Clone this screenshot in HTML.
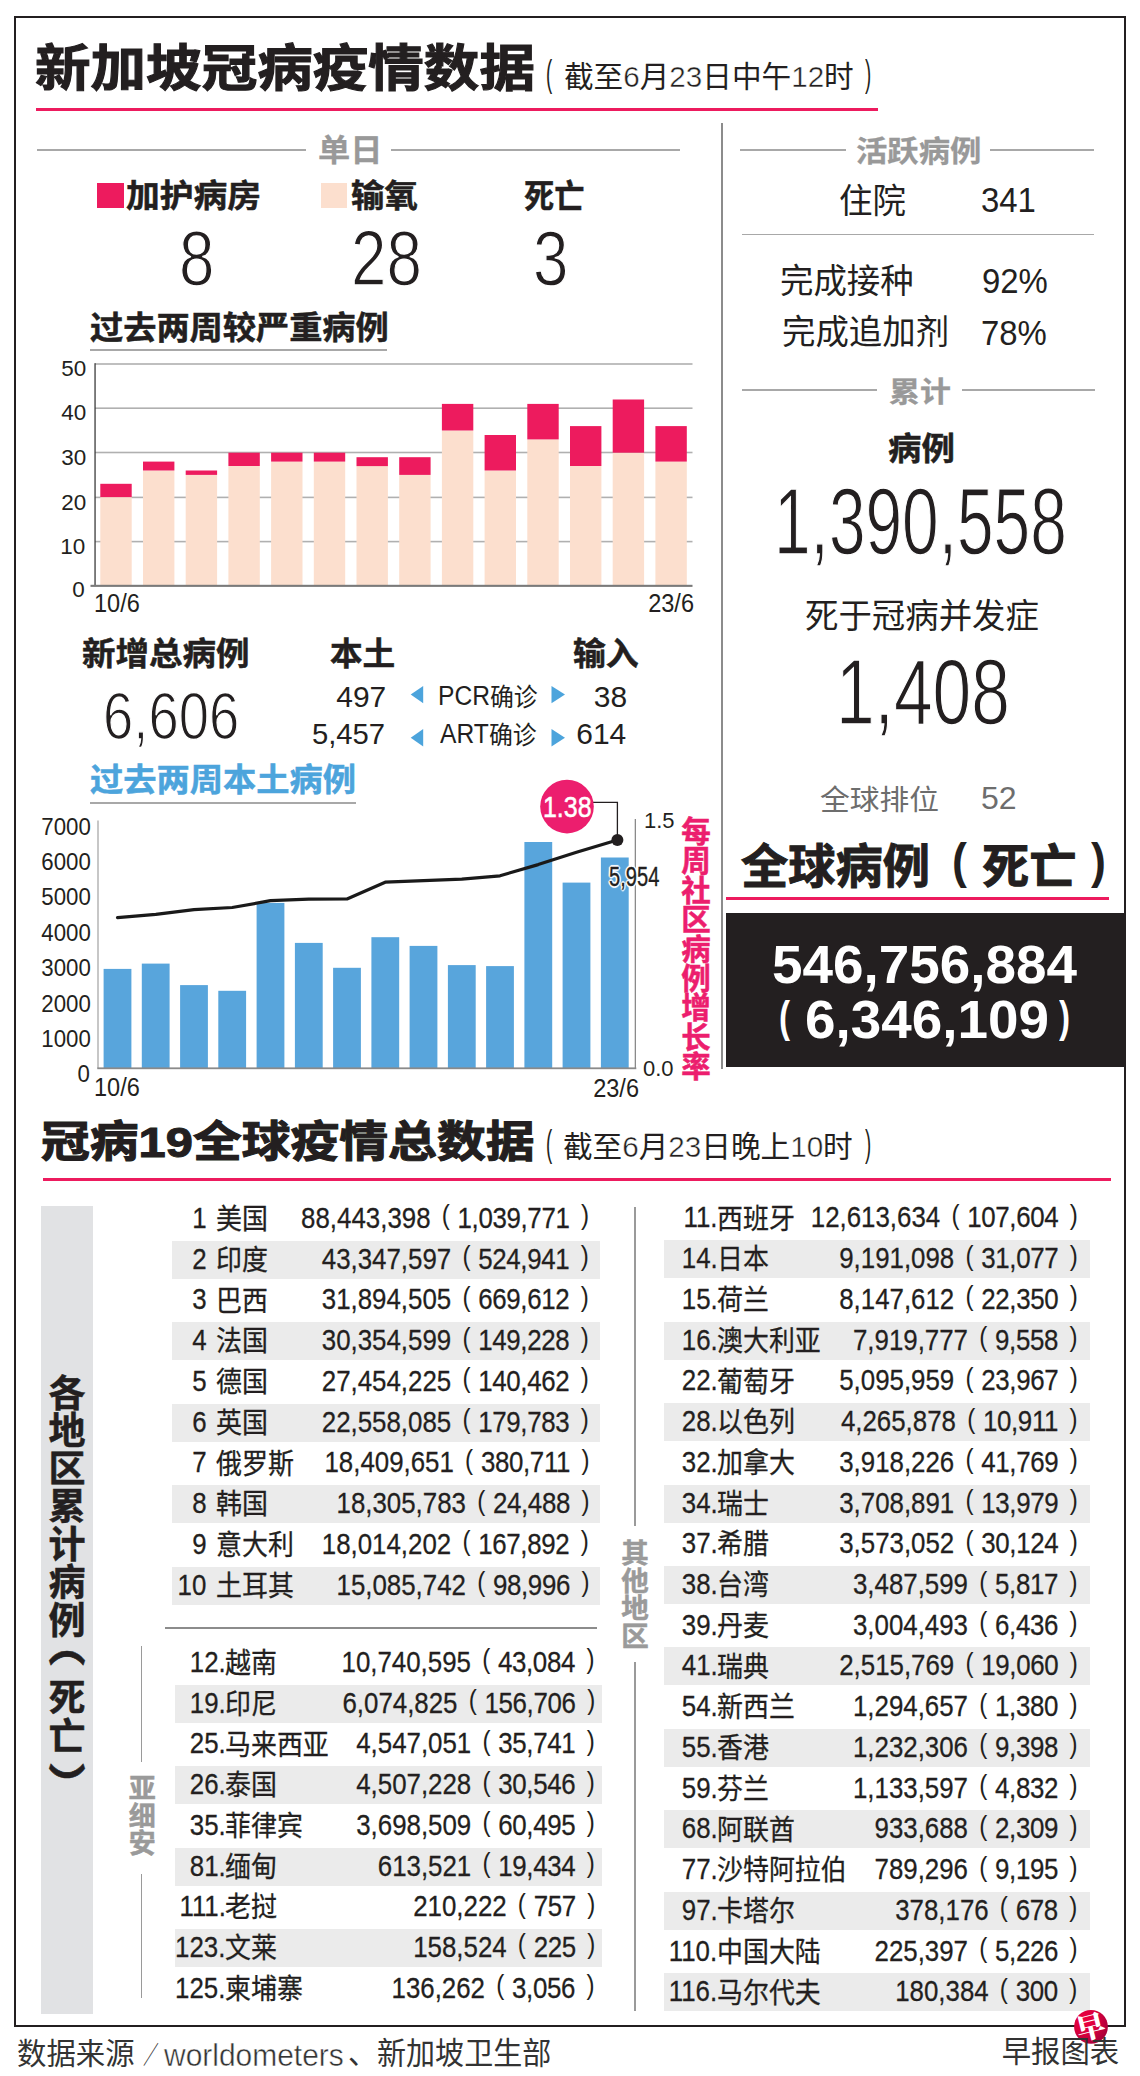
<!DOCTYPE html>
<html lang="zh-CN"><head><meta charset="utf-8"><title>新加坡冠病疫情数据</title>
<style>
html,body{margin:0;padding:0;background:#fff}
body{width:1140px;height:2076px;position:relative;overflow:hidden;font-family:"Liberation Sans","Noto Sans CJK SC",sans-serif;color:#231f20}
.t{position:absolute;white-space:nowrap;line-height:1;transform-origin:0 0}
.t.r{transform-origin:100% 0}
.thin{-webkit-text-stroke:1.35px #fff}
.lt{}
.dg{-webkit-text-stroke:.45px #fff}
.halo{text-shadow:0 0 2px #fff,0 0 2px #fff,1px 1px 1px #fff,-1px -1px 1px #fff,1px -1px 1px #fff,-1px 1px 1px #fff,0 2px 1px #fff,0 -2px 1px #fff,2px 0 1px #fff,-2px 0 1px #fff}
.b{position:absolute}
.v{position:absolute;writing-mode:vertical-rl;white-space:nowrap;line-height:1;font-weight:700;-webkit-text-stroke-width:.5px}
.row{position:absolute;height:38px}
.row.g{background:#ebebeb}
.row span{position:absolute;top:-1px;white-space:nowrap;line-height:38px;font-size:30px;-webkit-text-stroke:.28px #231f20}
.row .k{transform-origin:100% 50%;transform:scaleX(.862)}
.row .n{transform-origin:0 50%;font-size:27.9px;top:1.3px;transform:scaleX(.93)}
.row .q{transform-origin:100% 50%;transform:scaleX(.862)}
.row i{font-style:normal;font-size:28px;position:relative;top:-3.5px;-webkit-text-stroke:0}
.row .p1{margin:0 9px 0 13px}
.row .p2{margin-left:13.4px}
.row b{font-weight:400;letter-spacing:-.4px}
</style></head><body>
<div class="b" style="left:14.3px;top:15.8px;width:1107.6px;height:2007.7px;border:2.6px solid #231f20;box-sizing:content-box"></div>
<div class="b" style="left:36.0px;top:107.8px;width:842.0px;height:3.0px;background:#ed1b5e;"></div>
<div class="b" style="left:43.0px;top:1177.5px;width:1068.0px;height:3.0px;background:#ed1b5e;"></div>
<div class="b" style="left:725.5px;top:897.0px;width:383.5px;height:2.6px;background:#ed1b5e;"></div>
<div class="b" style="left:37.0px;top:149.0px;width:269.0px;height:1.8px;background:#a8a8a8;"></div>
<div class="b" style="left:391.0px;top:149.0px;width:289.0px;height:1.8px;background:#a8a8a8;"></div>
<div class="b" style="left:740.0px;top:149.0px;width:106.0px;height:1.8px;background:#a8a8a8;"></div>
<div class="b" style="left:990.0px;top:149.0px;width:103.5px;height:1.8px;background:#a8a8a8;"></div>
<div class="b" style="left:742.0px;top:233.8px;width:351.5px;height:1.5px;background:#a8a8a8;"></div>
<div class="b" style="left:742.0px;top:389.4px;width:134.5px;height:1.8px;background:#a8a8a8;"></div>
<div class="b" style="left:962.4px;top:389.4px;width:132.6px;height:1.8px;background:#a8a8a8;"></div>
<div class="b" style="left:90.0px;top:349.3px;width:297.0px;height:2.0px;background:#a8a8a8;"></div>
<div class="b" style="left:90.0px;top:801.6px;width:266.0px;height:2.0px;background:#a8a8a8;"></div>
<div class="b" style="left:721.0px;top:123.0px;width:1.6px;height:946.0px;background:#8c8c8c;"></div>
<div class="b" style="left:97.0px;top:183.0px;width:27.0px;height:25.0px;background:#ed1b5e;"></div>
<div class="b" style="left:321.0px;top:183.0px;width:26.0px;height:25.0px;background:#fcdfce;"></div>
<div class="b" style="left:725.5px;top:912.5px;width:400.0px;height:154.0px;background:#231f20;"></div>
<svg class="b" style="left:0;top:355px" width="720" height="240" viewBox="0 355 720 240"><rect x="95" y="363.2" width="597.5" height="1.6" fill="#b0b0b0"/><rect x="95" y="407.4" width="597.5" height="1.6" fill="#b0b0b0"/><rect x="95" y="451.7" width="597.5" height="1.6" fill="#b0b0b0"/><rect x="95" y="496.6" width="597.5" height="1.6" fill="#b0b0b0"/><rect x="95" y="540.8" width="597.5" height="1.6" fill="#b0b0b0"/><rect x="100.3" y="497.1" width="31.4" height="88.7" fill="#fcdfce"/><rect x="100.3" y="483.8" width="31.4" height="13.3" fill="#ed1b5e"/><rect x="143.0" y="470.5" width="31.4" height="115.3" fill="#fcdfce"/><rect x="143.0" y="461.6" width="31.4" height="8.9" fill="#ed1b5e"/><rect x="185.7" y="474.9" width="31.4" height="110.9" fill="#fcdfce"/><rect x="185.7" y="470.5" width="31.4" height="4.4" fill="#ed1b5e"/><rect x="228.4" y="466.0" width="31.4" height="119.8" fill="#fcdfce"/><rect x="228.4" y="452.7" width="31.4" height="13.3" fill="#ed1b5e"/><rect x="271.1" y="461.6" width="31.4" height="124.2" fill="#fcdfce"/><rect x="271.1" y="452.7" width="31.4" height="8.9" fill="#ed1b5e"/><rect x="313.8" y="461.6" width="31.4" height="124.2" fill="#fcdfce"/><rect x="313.8" y="452.7" width="31.4" height="8.9" fill="#ed1b5e"/><rect x="356.5" y="466.0" width="31.4" height="119.8" fill="#fcdfce"/><rect x="356.5" y="457.2" width="31.4" height="8.9" fill="#ed1b5e"/><rect x="399.2" y="474.9" width="31.4" height="110.9" fill="#fcdfce"/><rect x="399.2" y="457.2" width="31.4" height="17.7" fill="#ed1b5e"/><rect x="441.9" y="430.5" width="31.4" height="155.3" fill="#fcdfce"/><rect x="441.9" y="403.9" width="31.4" height="26.6" fill="#ed1b5e"/><rect x="484.6" y="470.5" width="31.4" height="115.3" fill="#fcdfce"/><rect x="484.6" y="435.0" width="31.4" height="35.5" fill="#ed1b5e"/><rect x="527.3" y="439.4" width="31.4" height="146.4" fill="#fcdfce"/><rect x="527.3" y="403.9" width="31.4" height="35.5" fill="#ed1b5e"/><rect x="570.0" y="466.0" width="31.4" height="119.8" fill="#fcdfce"/><rect x="570.0" y="426.1" width="31.4" height="39.9" fill="#ed1b5e"/><rect x="612.7" y="452.7" width="31.4" height="133.1" fill="#fcdfce"/><rect x="612.7" y="399.5" width="31.4" height="53.2" fill="#ed1b5e"/><rect x="655.4" y="461.6" width="31.4" height="124.2" fill="#fcdfce"/><rect x="655.4" y="426.1" width="31.4" height="35.5" fill="#ed1b5e"/><rect x="94.4" y="363.2" width="1.3" height="223" fill="#3c3c3c"/><rect x="90.5" y="584.8" width="602" height="2.1" fill="#7a7a7a"/></svg>
<svg class="b" style="left:0;top:770px" width="720" height="310" viewBox="0 770 720 310"><rect x="103.6" y="968.9" width="27.8" height="99.4" fill="#58a5dc"/><rect x="141.8" y="963.6" width="27.8" height="104.7" fill="#58a5dc"/><rect x="180.1" y="985.1" width="27.8" height="83.2" fill="#58a5dc"/><rect x="218.3" y="990.8" width="27.8" height="77.5" fill="#58a5dc"/><rect x="256.6" y="902.9" width="27.8" height="165.4" fill="#58a5dc"/><rect x="294.9" y="942.9" width="27.8" height="125.4" fill="#58a5dc"/><rect x="333.1" y="967.8" width="27.8" height="100.5" fill="#58a5dc"/><rect x="371.4" y="937.2" width="27.8" height="131.1" fill="#58a5dc"/><rect x="409.6" y="945.9" width="27.8" height="122.4" fill="#58a5dc"/><rect x="447.9" y="965.1" width="27.8" height="103.2" fill="#58a5dc"/><rect x="486.1" y="966.1" width="27.8" height="102.2" fill="#58a5dc"/><rect x="524.4" y="842.0" width="27.8" height="226.3" fill="#58a5dc"/><rect x="562.6" y="882.6" width="27.8" height="185.7" fill="#58a5dc"/><rect x="600.9" y="857.5" width="27.8" height="210.8" fill="#58a5dc"/><rect x="97.3" y="820.5" width="1.4" height="248" fill="#b0b0b0"/><rect x="97.3" y="1067.4" width="539" height="1.8" fill="#8a8a8a"/><rect x="634.7" y="819" width="1.3" height="250" fill="#8a8a8a"/><polyline points="117.5,917.7 155.8,914.3 194.0,909.6 232.2,907.5 270.5,900.7 308.8,899.2 347.0,899.0 385.2,882.2 423.5,880.7 461.8,879.2 500.0,875.8 538.2,864.6 576.5,852.3 617.4,840.0" fill="none" stroke="#1a1a1a" stroke-width="3.2" stroke-linejoin="round" stroke-linecap="round"/><polyline points="592,802.3 617.4,802.3 617.4,838" fill="none" stroke="#231f20" stroke-width="1.3"/><circle cx="617.4" cy="840" r="6" fill="#231f20"/><circle cx="567" cy="806.6" r="26.8" fill="#ec1e6e"/></svg>
<svg class="b" style="left:400px;top:680px" width="180" height="75" viewBox="400 680 180 75"><polygon points="410.7,694.6 423.2,685.9 423.2,703.3" fill="#4ca4dc"/><polygon points="410.7,737.8 423.2,729.1 423.2,746.5" fill="#4ca4dc"/><polygon points="565.0,694.6 551.5,685.9 551.5,703.3" fill="#4ca4dc"/><polygon points="565.0,737.8 551.5,729.1 551.5,746.5" fill="#4ca4dc"/></svg>
<div class="v" id="vrate" style="left:678.5px;top:815.5px;font-size:29.5px;letter-spacing:-0.10px;color:#ec1e6e">每周社区病例增长率</div>
<div class="b" style="left:40.7px;top:1205.8px;width:52.1px;height:808.7px;background:#e1e2e4;"></div>
<div class="v" id="vreg" style="left:44.9px;top:1374.0px;font-size:37.0px;letter-spacing:0.90px">各地区累计病例</div>
<div class="v" id="vreg2" style="left:44.9px;top:1677.7px;font-size:37.0px;letter-spacing:2.60px">死亡</div>
<div class="v" id="vp1" style="left:44.9px;top:1630.3px;font-size:37.0px;transform:scaleY(1.3);transform-origin:50% 100%">（</div>
<div class="v" id="vp2" style="left:44.9px;top:1762.0px;font-size:37.0px;transform:scaleY(1.3);transform-origin:50% 0">）</div>
<div class="v" id="vasean" style="left:125.8px;top:1773.5px;font-size:27.0px;letter-spacing:0.80px;color:#9a9a9a">亚细安</div>
<div class="v" id="voth" style="left:618.4px;top:1539.0px;font-size:27.5px;letter-spacing:0.00px;color:#9a9a9a">其他地区</div>
<div class="b" style="left:140.5px;top:1646.0px;width:1.6px;height:116.0px;background:#9a9a9a;"></div>
<div class="b" style="left:140.5px;top:1874.0px;width:1.6px;height:124.0px;background:#9a9a9a;"></div>
<div class="b" style="left:634.3px;top:1207.0px;width:1.6px;height:319.0px;background:#9a9a9a;"></div>
<div class="b" style="left:634.3px;top:1662.0px;width:1.6px;height:349.0px;background:#9a9a9a;"></div>
<div class="b" style="left:165.0px;top:1627.2px;width:431.5px;height:1.5px;background:#8c8c8c;"></div>
<div class="row" style="left:172.0px;top:1199.7px;width:428.0px"><span class="k" style="right:393.5px">1</span><span class="n" style="left:44.2px">美国</span><span class="q" style="right:10.8px">88,443,398<i class="p1">(</i><b>1,039,771</b><i class="p2">)</i></span></div>
<div class="row g" style="left:172.0px;top:1240.5px;width:428.0px"><span class="k" style="right:393.5px">2</span><span class="n" style="left:44.2px">印度</span><span class="q" style="right:10.8px">43,347,597<i class="p1">(</i><b>524,941</b><i class="p2">)</i></span></div>
<div class="row" style="left:172.0px;top:1281.3px;width:428.0px"><span class="k" style="right:393.5px">3</span><span class="n" style="left:44.2px">巴西</span><span class="q" style="right:10.8px">31,894,505<i class="p1">(</i><b>669,612</b><i class="p2">)</i></span></div>
<div class="row g" style="left:172.0px;top:1322.0px;width:428.0px"><span class="k" style="right:393.5px">4</span><span class="n" style="left:44.2px">法国</span><span class="q" style="right:10.8px">30,354,599<i class="p1">(</i><b>149,228</b><i class="p2">)</i></span></div>
<div class="row" style="left:172.0px;top:1362.8px;width:428.0px"><span class="k" style="right:393.5px">5</span><span class="n" style="left:44.2px">德国</span><span class="q" style="right:10.8px">27,454,225<i class="p1">(</i><b>140,462</b><i class="p2">)</i></span></div>
<div class="row g" style="left:172.0px;top:1403.6px;width:428.0px"><span class="k" style="right:393.5px">6</span><span class="n" style="left:44.2px">英国</span><span class="q" style="right:10.8px">22,558,085<i class="p1">(</i><b>179,783</b><i class="p2">)</i></span></div>
<div class="row" style="left:172.0px;top:1444.4px;width:428.0px"><span class="k" style="right:393.5px">7</span><span class="n" style="left:44.2px">俄罗斯</span><span class="q" style="right:10.8px">18,409,651<i class="p1">(</i><b>380,711</b><i class="p2">)</i></span></div>
<div class="row g" style="left:172.0px;top:1485.2px;width:428.0px"><span class="k" style="right:393.5px">8</span><span class="n" style="left:44.2px">韩国</span><span class="q" style="right:10.8px">18,305,783<i class="p1">(</i><b>24,488</b><i class="p2">)</i></span></div>
<div class="row" style="left:172.0px;top:1525.9px;width:428.0px"><span class="k" style="right:393.5px">9</span><span class="n" style="left:44.2px">意大利</span><span class="q" style="right:10.8px">18,014,202<i class="p1">(</i><b>167,892</b><i class="p2">)</i></span></div>
<div class="row g" style="left:172.0px;top:1566.7px;width:428.0px"><span class="k" style="right:393.5px">10</span><span class="n" style="left:44.2px">土耳其</span><span class="q" style="right:10.8px">15,085,742<i class="p1">(</i><b>98,996</b><i class="p2">)</i></span></div>
<div class="row" style="left:175.0px;top:1643.9px;width:427.0px"><span class="k" style="right:376.5px">12.</span><span class="n" style="left:50.2px">越南</span><span class="q" style="right:7.0px">10,740,595<i class="p1">(</i><b>43,084</b><i class="p2">)</i></span></div>
<div class="row g" style="left:175.0px;top:1684.6px;width:427.0px"><span class="k" style="right:376.5px">19.</span><span class="n" style="left:50.2px">印尼</span><span class="q" style="right:7.0px">6,074,825<i class="p1">(</i><b>156,706</b><i class="p2">)</i></span></div>
<div class="row" style="left:175.0px;top:1725.3px;width:427.0px"><span class="k" style="right:376.5px">25.</span><span class="n" style="left:50.2px">马来西亚</span><span class="q" style="right:7.0px">4,547,051<i class="p1">(</i><b>35,741</b><i class="p2">)</i></span></div>
<div class="row g" style="left:175.0px;top:1766.1px;width:427.0px"><span class="k" style="right:376.5px">26.</span><span class="n" style="left:50.2px">泰国</span><span class="q" style="right:7.0px">4,507,228<i class="p1">(</i><b>30,546</b><i class="p2">)</i></span></div>
<div class="row" style="left:175.0px;top:1806.8px;width:427.0px"><span class="k" style="right:376.5px">35.</span><span class="n" style="left:50.2px">菲律宾</span><span class="q" style="right:7.0px">3,698,509<i class="p1">(</i><b>60,495</b><i class="p2">)</i></span></div>
<div class="row g" style="left:175.0px;top:1847.5px;width:427.0px"><span class="k" style="right:376.5px">81.</span><span class="n" style="left:50.2px">缅甸</span><span class="q" style="right:7.0px">613,521<i class="p1">(</i><b>19,434</b><i class="p2">)</i></span></div>
<div class="row" style="left:175.0px;top:1888.2px;width:427.0px"><span class="k" style="right:376.5px">111.</span><span class="n" style="left:50.2px">老挝</span><span class="q" style="right:7.0px">210,222<i class="p1">(</i><b>757</b><i class="p2">)</i></span></div>
<div class="row g" style="left:175.0px;top:1928.9px;width:427.0px"><span class="k" style="right:376.5px">123.</span><span class="n" style="left:50.2px">文莱</span><span class="q" style="right:7.0px">158,524<i class="p1">(</i><b>225</b><i class="p2">)</i></span></div>
<div class="row" style="left:175.0px;top:1969.7px;width:427.0px"><span class="k" style="right:376.5px">125.</span><span class="n" style="left:50.2px">柬埔寨</span><span class="q" style="right:7.0px">136,262<i class="p1">(</i><b>3,056</b><i class="p2">)</i></span></div>
<div class="row" style="left:664.0px;top:1199.4px;width:426.0px"><span class="k" style="right:372.4px">11.</span><span class="n" style="left:52.6px">西班牙</span><span class="q" style="right:12.2px">12,613,634<i class="p1">(</i><b>107,604</b><i class="p2">)</i></span></div>
<div class="row g" style="left:664.0px;top:1240.1px;width:426.0px"><span class="k" style="right:372.4px">14.</span><span class="n" style="left:52.6px">日本</span><span class="q" style="right:12.2px">9,191,098<i class="p1">(</i><b>31,077</b><i class="p2">)</i></span></div>
<div class="row" style="left:664.0px;top:1280.9px;width:426.0px"><span class="k" style="right:372.4px">15.</span><span class="n" style="left:52.6px">荷兰</span><span class="q" style="right:12.2px">8,147,612<i class="p1">(</i><b>22,350</b><i class="p2">)</i></span></div>
<div class="row g" style="left:664.0px;top:1321.6px;width:426.0px"><span class="k" style="right:372.4px">16.</span><span class="n" style="left:52.6px">澳大利亚</span><span class="q" style="right:12.2px">7,919,777<i class="p1">(</i><b>9,558</b><i class="p2">)</i></span></div>
<div class="row" style="left:664.0px;top:1362.3px;width:426.0px"><span class="k" style="right:372.4px">22.</span><span class="n" style="left:52.6px">葡萄牙</span><span class="q" style="right:12.2px">5,095,959<i class="p1">(</i><b>23,967</b><i class="p2">)</i></span></div>
<div class="row g" style="left:664.0px;top:1403.1px;width:426.0px"><span class="k" style="right:372.4px">28.</span><span class="n" style="left:52.6px">以色列</span><span class="q" style="right:12.2px">4,265,878<i class="p1">(</i><b>10,911</b><i class="p2">)</i></span></div>
<div class="row" style="left:664.0px;top:1443.8px;width:426.0px"><span class="k" style="right:372.4px">32.</span><span class="n" style="left:52.6px">加拿大</span><span class="q" style="right:12.2px">3,918,226<i class="p1">(</i><b>41,769</b><i class="p2">)</i></span></div>
<div class="row g" style="left:664.0px;top:1484.5px;width:426.0px"><span class="k" style="right:372.4px">34.</span><span class="n" style="left:52.6px">瑞士</span><span class="q" style="right:12.2px">3,708,891<i class="p1">(</i><b>13,979</b><i class="p2">)</i></span></div>
<div class="row" style="left:664.0px;top:1525.2px;width:426.0px"><span class="k" style="right:372.4px">37.</span><span class="n" style="left:52.6px">希腊</span><span class="q" style="right:12.2px">3,573,052<i class="p1">(</i><b>30,124</b><i class="p2">)</i></span></div>
<div class="row g" style="left:664.0px;top:1566.0px;width:426.0px"><span class="k" style="right:372.4px">38.</span><span class="n" style="left:52.6px">台湾</span><span class="q" style="right:12.2px">3,487,599<i class="p1">(</i><b>5,817</b><i class="p2">)</i></span></div>
<div class="row" style="left:664.0px;top:1606.7px;width:426.0px"><span class="k" style="right:372.4px">39.</span><span class="n" style="left:52.6px">丹麦</span><span class="q" style="right:12.2px">3,004,493<i class="p1">(</i><b>6,436</b><i class="p2">)</i></span></div>
<div class="row g" style="left:664.0px;top:1647.4px;width:426.0px"><span class="k" style="right:372.4px">41.</span><span class="n" style="left:52.6px">瑞典</span><span class="q" style="right:12.2px">2,515,769<i class="p1">(</i><b>19,060</b><i class="p2">)</i></span></div>
<div class="row" style="left:664.0px;top:1688.2px;width:426.0px"><span class="k" style="right:372.4px">54.</span><span class="n" style="left:52.6px">新西兰</span><span class="q" style="right:12.2px">1,294,657<i class="p1">(</i><b>1,380</b><i class="p2">)</i></span></div>
<div class="row g" style="left:664.0px;top:1728.9px;width:426.0px"><span class="k" style="right:372.4px">55.</span><span class="n" style="left:52.6px">香港</span><span class="q" style="right:12.2px">1,232,306<i class="p1">(</i><b>9,398</b><i class="p2">)</i></span></div>
<div class="row" style="left:664.0px;top:1769.6px;width:426.0px"><span class="k" style="right:372.4px">59.</span><span class="n" style="left:52.6px">芬兰</span><span class="q" style="right:12.2px">1,133,597<i class="p1">(</i><b>4,832</b><i class="p2">)</i></span></div>
<div class="row g" style="left:664.0px;top:1810.3px;width:426.0px"><span class="k" style="right:372.4px">68.</span><span class="n" style="left:52.6px">阿联酋</span><span class="q" style="right:12.2px">933,688<i class="p1">(</i><b>2,309</b><i class="p2">)</i></span></div>
<div class="row" style="left:664.0px;top:1851.1px;width:426.0px"><span class="k" style="right:372.4px">77.</span><span class="n" style="left:52.6px">沙特阿拉伯</span><span class="q" style="right:12.2px">789,296<i class="p1">(</i><b>9,195</b><i class="p2">)</i></span></div>
<div class="row g" style="left:664.0px;top:1891.8px;width:426.0px"><span class="k" style="right:372.4px">97.</span><span class="n" style="left:52.6px">卡塔尔</span><span class="q" style="right:12.2px">378,176<i class="p1">(</i><b>678</b><i class="p2">)</i></span></div>
<div class="row" style="left:664.0px;top:1932.5px;width:426.0px"><span class="k" style="right:372.4px">110.</span><span class="n" style="left:52.6px">中国大陆</span><span class="q" style="right:12.2px">225,397<i class="p1">(</i><b>5,226</b><i class="p2">)</i></span></div>
<div class="row g" style="left:664.0px;top:1973.3px;width:426.0px"><span class="k" style="right:372.4px">116.</span><span class="n" style="left:52.6px">马尔代夫</span><span class="q" style="right:12.2px">180,384<i class="p1">(</i><b>300</b><i class="p2">)</i></span></div>
<svg class="b" style="left:1069px;top:2005px" width="44" height="44" viewBox="1069 2005 44 44"><defs><radialGradient id="lg" cx="0.3" cy="0.3" r="0.8"><stop offset="0" stop-color="#f0003e"/><stop offset="0.55" stop-color="#d4003c"/><stop offset="1" stop-color="#a3003a"/></radialGradient></defs><circle cx="1091" cy="2026.8" r="16.9" fill="url(#lg)"/><text x="1090.5" y="2037.5" font-size="29" font-weight="900" fill="#fff" text-anchor="middle" font-family="Noto Serif CJK SC,Noto Sans CJK SC,serif" transform="rotate(-14 1091 2026.8)">早</text></svg>
<div class="t" id="t1" style="left:35.3px;top:43.5px;font-size:50.5px;font-weight:700;transform:scaleX(1.100);-webkit-text-stroke-width:1.1px">新加坡冠病疫情数据</div>
<div class="t" id="t1s" style="left:564.1px;top:62.0px;font-size:29.9px;transform:scaleX(0.991)">截至<span class="dg">6</span>月<span class="dg">23</span>日中午<span class="dg">12</span>时</div>
<div class="t" id="t1p1" style="left:545.8px;top:55.8px;font-size:36.8px;font-weight:300;transform:scaleX(0.506)">(</div>
<div class="t" id="t1p2" style="left:865.0px;top:55.8px;font-size:36.8px;font-weight:300;transform:scaleX(0.506)">)</div>
<div class="t" id="lab1" style="left:318.3px;top:135.0px;font-size:30.4px;font-weight:700;color:#999;transform:scaleX(1.060);-webkit-text-stroke-width:.3px">单日</div>
<div class="t" id="icu" style="left:126.0px;top:180.6px;font-size:31.4px;font-weight:700;transform:scaleX(1.076);-webkit-text-stroke-width:.5px">加护病房</div>
<div class="t" id="o2" style="left:350.9px;top:181.0px;font-size:31.8px;font-weight:700;transform:scaleX(1.051);-webkit-text-stroke-width:.5px">输氧</div>
<div class="t" id="dth" style="left:523.7px;top:181.0px;font-size:32.8px;font-weight:700;transform:scaleX(0.922);-webkit-text-stroke-width:.5px">死亡</div>
<div class="t thin" id="n8" style="left:178.7px;top:219.3px;font-size:78.2px;transform:scaleX(0.814)">8</div>
<div class="t thin" id="n28" style="left:350.7px;top:219.3px;font-size:78.2px;transform:scaleX(0.814)">28</div>
<div class="t thin" id="n3" style="left:532.5px;top:219.3px;font-size:78.2px;transform:scaleX(0.814)">3</div>
<div class="t" id="c1t" style="left:90.3px;top:313.1px;font-size:31.8px;font-weight:700;transform:scaleX(1.044);-webkit-text-stroke-width:.5px">过去两周较严重病例</div>
<div class="t r lt" id="c1y50" style="right:1053.8px;top:357.1px;font-size:22.7px;transform:scaleX(0.990)">50</div>
<div class="t r lt" id="c1y40" style="right:1053.8px;top:401.3px;font-size:22.7px;transform:scaleX(0.990)">40</div>
<div class="t r lt" id="c1y30" style="right:1053.8px;top:445.6px;font-size:22.7px;transform:scaleX(0.990)">30</div>
<div class="t r lt" id="c1y20" style="right:1053.8px;top:490.5px;font-size:22.7px;transform:scaleX(0.990)">20</div>
<div class="t r lt" id="c1y10" style="right:1054.8px;top:534.7px;font-size:22.7px;transform:scaleX(0.990)">10</div>
<div class="t r lt" id="c1y0" style="right:1054.9px;top:577.9px;font-size:22.7px;transform:scaleX(0.990)">0</div>
<div class="t lt" id="c1x0" style="left:93.7px;top:591.0px;font-size:25.7px;transform:scaleX(0.916)">10/6</div>
<div class="t r lt" id="c1x1" style="right:446.4px;top:591.0px;font-size:25.7px;transform:scaleX(0.916)">23/6</div>
<div class="t" id="nc" style="left:82.3px;top:637.6px;font-size:32.2px;font-weight:700;transform:scaleX(1.040);-webkit-text-stroke-width:.5px">新增总病例</div>
<div class="t" id="loc" style="left:329.6px;top:638.6px;font-size:31.6px;font-weight:700;transform:scaleX(1.032);-webkit-text-stroke-width:.5px">本土</div>
<div class="t" id="imp" style="left:572.6px;top:637.9px;font-size:32.2px;font-weight:700;transform:scaleX(1.021);-webkit-text-stroke-width:.5px">输入</div>
<div class="t thin" id="n6606" style="left:102.7px;top:681.8px;font-size:67.1px;transform:scaleX(0.811)">6,606</div>
<div class="t r lt" id="n497" style="right:754.3px;top:682.8px;font-size:28.9px;transform:scaleX(1.037)">497</div>
<div class="t r lt" id="n5457" style="right:754.6px;top:719.3px;font-size:29.6px;transform:scaleX(0.988)">5,457</div>
<div class="t r lt" id="n38" style="right:512.4px;top:682.8px;font-size:28.9px;transform:scaleX(1.037)">38</div>
<div class="t r lt" id="n614" style="right:513.9px;top:720.3px;font-size:28.9px;transform:scaleX(1.037)">614</div>
<div class="t" id="pcr" style="left:438.3px;top:681.4px;font-size:28.4px;transform:scaleX(0.866)">PCR</div>
<div class="t" id="pcr2" style="left:490.1px;top:686.2px;font-size:24.7px;transform:scaleX(0.966)">确诊</div>
<div class="t" id="art" style="left:439.9px;top:719.0px;font-size:28.4px;transform:scaleX(0.866)">ART</div>
<div class="t" id="art2" style="left:488.5px;top:723.9px;font-size:24.7px;transform:scaleX(0.966)">确诊</div>
<div class="t" id="c2t" style="left:90.3px;top:765.3px;font-size:31.3px;font-weight:700;color:#4ca4dc;transform:scaleX(1.062);-webkit-text-stroke-width:.5px">过去两周本土病例</div>
<div class="t r lt" id="c2y7000" style="right:1049.5px;top:816.3px;font-size:23.3px;transform:scaleX(0.955)">7000</div>
<div class="t r lt" id="c2y6000" style="right:1049.5px;top:850.9px;font-size:23.3px;transform:scaleX(0.955)">6000</div>
<div class="t r lt" id="c2y5000" style="right:1049.5px;top:886.4px;font-size:23.3px;transform:scaleX(0.955)">5000</div>
<div class="t r lt" id="c2y4000" style="right:1049.5px;top:921.9px;font-size:23.3px;transform:scaleX(0.955)">4000</div>
<div class="t r lt" id="c2y3000" style="right:1049.5px;top:957.4px;font-size:23.3px;transform:scaleX(0.955)">3000</div>
<div class="t r lt" id="c2y2000" style="right:1049.5px;top:992.9px;font-size:23.3px;transform:scaleX(0.955)">2000</div>
<div class="t r lt" id="c2y1000" style="right:1049.5px;top:1028.3px;font-size:23.3px;transform:scaleX(0.955)">1000</div>
<div class="t r lt" id="c2y0" style="right:1049.9px;top:1063.4px;font-size:23.3px;transform:scaleX(0.955)">0</div>
<div class="t lt" id="c2x0" style="left:93.7px;top:1074.5px;font-size:25.7px;transform:scaleX(0.916)">10/6</div>
<div class="t r lt" id="c2x1" style="right:501.1px;top:1076.0px;font-size:25.7px;transform:scaleX(0.916)">23/6</div>
<div class="t lt" id="r15" style="left:643.8px;top:810.3px;font-size:21.8px;transform:scaleX(1.008)">1.5</div>
<div class="t lt" id="r00" style="left:642.8px;top:1058.4px;font-size:21.8px;transform:scaleX(1.008)">0.0</div>
<div class="t" id="n138" style="left:542.7px;top:793.3px;font-size:29.0px;color:#fff;transform:scaleX(0.860);-webkit-text-stroke-width:.5px">1.38</div>
<div class="t halo" id="n5954" style="left:608.8px;top:863.1px;font-size:27.6px;transform:scaleX(0.729);-webkit-text-stroke-width:.35px">5,954</div>
<div class="t" id="lab2" style="left:856.3px;top:138.0px;font-size:29.1px;font-weight:700;color:#999;transform:scaleX(1.077);-webkit-text-stroke-width:.3px">活跃病例</div>
<div class="t" id="hosp" style="left:839.4px;top:185.3px;font-size:33.7px;transform:scaleX(0.992)">住院</div>
<div class="t lt" id="n341" style="left:981.1px;top:182.3px;font-size:35.0px;transform:scaleX(0.940)">341</div>
<div class="t" id="vac" style="left:780.4px;top:265.4px;font-size:33.7px;transform:scaleX(0.992)">完成接种</div>
<div class="t lt" id="n92" style="left:981.6px;top:263.4px;font-size:35.0px;transform:scaleX(0.940)">92%</div>
<div class="t" id="boo" style="left:781.7px;top:316.2px;font-size:33.7px;transform:scaleX(0.992)">完成追加剂</div>
<div class="t lt" id="n78" style="left:981.3px;top:314.7px;font-size:35.0px;transform:scaleX(0.940)">78%</div>
<div class="t" id="lab3" style="left:889.1px;top:377.9px;font-size:28.8px;font-weight:700;color:#999;transform:scaleX(1.073);-webkit-text-stroke-width:.3px">累计</div>
<div class="t" id="cas" style="left:887.6px;top:433.5px;font-size:31.6px;font-weight:700;transform:scaleX(1.057);-webkit-text-stroke-width:.5px">病例</div>
<div class="t thin" id="nbig" style="left:773.7px;top:474.7px;font-size:94.0px;transform:scaleX(0.700)">1,390,558</div>
<div class="t" id="dc" style="left:805.3px;top:600.2px;font-size:33.7px;transform:scaleX(0.992)">死于冠病并发症</div>
<div class="t thin" id="n1408" style="left:836.4px;top:646.4px;font-size:93.1px;transform:scaleX(0.746)">1,408</div>
<div class="t" id="rank" style="left:819.8px;top:785.6px;font-size:28.8px;color:#6d6d6d;transform:scaleX(1.033)">全球排位</div>
<div class="t lt" id="n52" style="left:980.5px;top:783.3px;font-size:31.0px;color:#6d6d6d;transform:scaleX(1.033)">52</div>
<div class="t" id="gl1" style="left:740.8px;top:843.9px;font-size:46.5px;font-weight:700;transform:scaleX(1.016);-webkit-text-stroke-width:1px">全球病例</div>
<div class="t" id="gl2" style="left:982.4px;top:843.5px;font-size:46.5px;font-weight:700;transform:scaleX(1.016);-webkit-text-stroke-width:1px">死亡</div>
<div class="t" id="glp1" style="left:952.0px;top:836.0px;font-size:50.1px;font-weight:700;transform:scaleX(0.893)">(</div>
<div class="t" id="glp2" style="left:1091.2px;top:836.0px;font-size:50.1px;font-weight:700;transform:scaleX(0.893)">)</div>
<div class="t" id="g1" style="left:771.6px;top:938.5px;font-size:52.9px;font-weight:700;color:#fff;transform:scaleX(1.037)">546,756,884</div>
<div class="t" id="g2" style="left:805.1px;top:993.8px;font-size:52.9px;font-weight:700;color:#fff;transform:scaleX(1.037)">6,346,109</div>
<div class="t" id="g2p1" style="left:779.3px;top:995.4px;font-size:44.1px;font-weight:700;color:#fff;transform:scaleX(0.752)">(</div>
<div class="t" id="g2p2" style="left:1058.8px;top:995.4px;font-size:44.1px;font-weight:700;color:#fff;transform:scaleX(0.752)">)</div>
<div class="t" id="t2" style="left:40.9px;top:1120.6px;font-size:43.2px;font-weight:700;transform:scaleX(1.130);-webkit-text-stroke-width:1.1px">冠病19全球疫情总数据</div>
<div class="t" id="t2s" style="left:563.2px;top:1132.2px;font-size:29.9px;transform:scaleX(0.991)">截至<span class="dg">6</span>月<span class="dg">23</span>日晚上<span class="dg">10</span>时</div>
<div class="t" id="t2p1" style="left:546.4px;top:1125.5px;font-size:36.8px;font-weight:300;transform:scaleX(0.506)">(</div>
<div class="t" id="t2p2" style="left:865.0px;top:1125.5px;font-size:36.8px;font-weight:300;transform:scaleX(0.506)">)</div>
<div class="t" id="f1" style="left:17.0px;top:2039.1px;font-size:29.4px;color:#333">数据来源</div>
<div class="t" id="f2" style="left:142.7px;top:2042.7px;font-size:25.1px;font-weight:200;color:#333;transform:scaleX(0.629)">／</div>
<div class="t dg" id="f3" style="left:164.2px;top:2040.6px;font-size:30.7px;color:#333;transform:scaleX(0.976)">worldometers</div>
<div class="t" id="f5" style="left:348.0px;top:2038.4px;font-size:30.5px;color:#333;transform:scaleX(0.952)">、新加坡卫生部</div>
<div class="t" id="f6" style="left:1001.7px;top:2037.1px;font-size:29.4px;color:#333">早报图表</div>
</body></html>
